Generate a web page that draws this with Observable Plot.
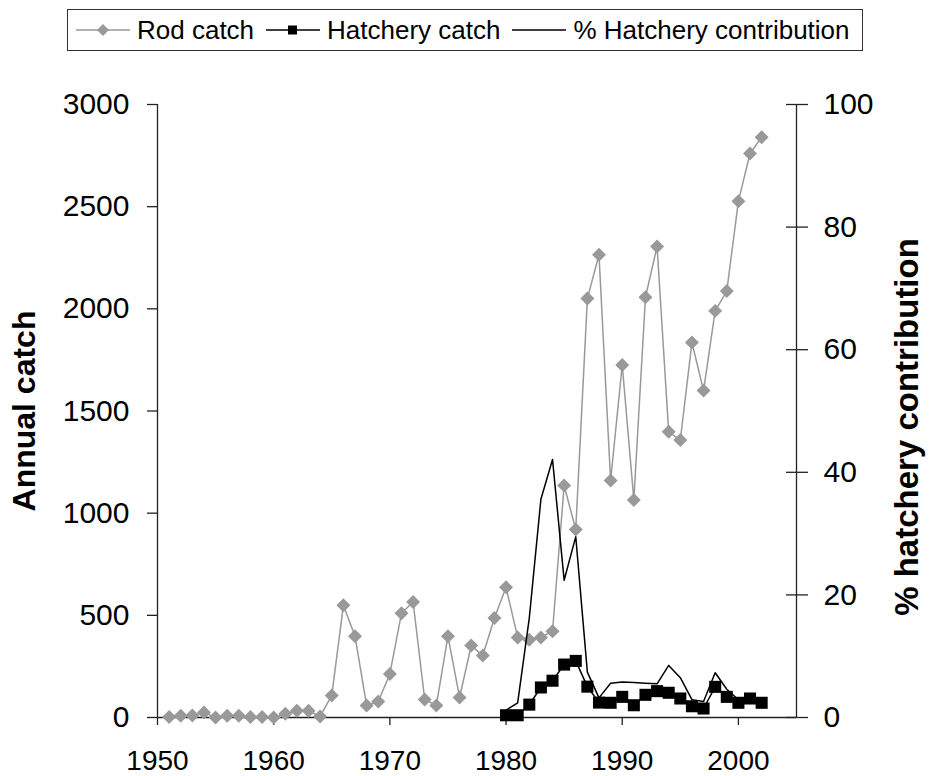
<!DOCTYPE html>
<html>
<head>
<meta charset="utf-8">
<script src="https://cdn.jsdelivr.net/npm/d3@7"></script>
<script src="https://cdn.jsdelivr.net/npm/@observablehq/plot@0.6"></script>
<style>
  body { margin: 0; background: #fff; font-family: "Liberation Sans", Arial, sans-serif; }
  #wrap { width: 931px; }
  #legend { position: relative; height: 56px; }
  #legend .box {
    position: absolute; left: 67px; top: 9px; height: 42px;
    border: 1px solid #333; box-sizing: border-box;
    display: flex; align-items: center; padding: 0 12px 0 8px;
    font-size: 26px; color: #000; white-space: nowrap;
  }
  #legend .item { display: flex; align-items: center; }
  #legend .item + .item { margin-left: 12px; }
  #legend svg { margin-right: 7px; display: block; }
</style>
</head>
<body>
<div id="wrap">
  <div id="legend"><div class="box"></div></div>
  <div id="chart"></div>
</div>
<script>
// ---- data ----
const rodYears = [1951,1952,1953,1954,1955,1956,1957,1958,1959,1960,
  1961,1962,1963,1964,1965,1966,1967,1968,1969,1970,
  1971,1972,1973,1974,1975,1976,1977,1978,1979,1980,
  1981,1982,1983,1984,1985,1986,1987,1988,1989,1990,
  1991,1992,1993,1994,1995,1996,1997,1998,1999,2000,2001,2002];
const rodCatch = [2,8,10,25,0,8,8,2,2,0,
  18,33,33,5,108,549,398,59,78,213,
  510,565,88,59,398,98,352,303,487,637,
  392,380,392,422,1135,920,2050,2265,1160,1725,
  1065,2057,2305,1398,1358,1835,1600,1990,2087,2527,2760,2840];
const hatchYears = [1980,1981,1982,1983,1984,1985,1986,1987,1988,1989,1990,
  1991,1992,1993,1994,1995,1996,1997,1998,1999,2000,2001,2002];
const hatcheryCatch = [11,11,63,147,180,259,277,151,73,72,101,
  60,111,129,121,93,55,44,150,101,72,93,72];
const pctHatchery = [1.2,2.4,16.2,35.6,42.1,22.4,29.5,7.4,3.2,5.6,5.8,
  5.7,5.6,5.5,8.5,6.5,2.9,2.6,7.3,4.6,2.9,3.4,2.6];
const xTicks = [1950,1960,1970,1980,1990,2000];
const leftTicks = [0,500,1000,1500,2000,2500,3000];
const pctTicks = [0,20,40,60,80,100];
const seriesNames = ["Rod catch","Hatchery catch","% Hatchery contribution"];
const leftTitle = "Annual catch";
const rightTitle = "% hatchery contribution";

const PCT_K = 3000 / 100; // secondary axis 0–100 maps onto 0–3000
const GRAY = "#999999";
const AXIS = "#222";
const FONT = "Liberation Sans, Arial, sans-serif";

const rod = rodYears.map((y, i) => ({year: y, value: rodCatch[i]}));
const hatch = hatchYears.map((y, i) => ({year: y, value: hatcheryCatch[i]}));
const pct = hatchYears.map((y, i) => ({year: y, value: pctHatchery[i]}));

const chart = Plot.plot({
  width: 931,
  height: 720,
  marginTop: 48,
  marginBottom: 59,
  marginLeft: 157,
  marginRight: 135,
  x: {domain: [1950, 2005]},
  y: {domain: [0, 3000]},
  style: {fontFamily: FONT, color: "#000", background: "#fff", overflow: "visible"},
  marks: [
    Plot.axisX(xTicks, {tickSize: 8, tickPadding: 25, fontSize: 28, label: null,
      stroke: AXIS, strokeWidth: 1.3, tickFormat: d => String(d)}),
    Plot.axisY(leftTicks, {anchor: "left", tickSize: 10, tickPadding: 18, fontSize: 30,
      label: null, stroke: AXIS, strokeWidth: 1.3, tickFormat: d => String(d)}),
    Plot.axisY(pctTicks.map(p => p * PCT_K), {anchor: "right", tickSize: 22, insetRight: 11,
      tickPadding: 16, fontSize: 30, label: null, stroke: AXIS, strokeWidth: 1.3,
      tickFormat: d => String(Math.round(d / PCT_K))}),
    Plot.ruleX([1950, 2005], {stroke: AXIS, strokeWidth: 1.3}),
    Plot.ruleY([0], {stroke: AXIS, strokeWidth: 1.3}),
    Plot.line(rod, {x: "year", y: "value", stroke: GRAY, strokeWidth: 1.5}),
    Plot.dot(rod, {x: "year", y: "value", symbol: "diamond2", r: 6.3, fill: GRAY}),
    Plot.line(pct, {x: "year", y: d => d.value * PCT_K, stroke: "#000", strokeWidth: 1.5}),
    Plot.line(hatch, {x: "year", y: "value", stroke: "#000", strokeWidth: 1.5}),
    Plot.dot(hatch, {x: "year", y: "value", symbol: "square", r: 6.8, fill: "#000"}),
    Plot.text([leftTitle], {text: d => d, frameAnchor: "left", textAnchor: "middle",
      dx: -133, rotate: -90, fontSize: 32, fontWeight: "bold", fill: "#000"}),
    Plot.text([rightTitle], {text: d => d, frameAnchor: "right", textAnchor: "middle",
      dx: 111, dy: 16, rotate: -90, fontSize: 33, fontWeight: "bold", fill: "#000"})
  ]
});
document.getElementById("chart").appendChild(chart);

// ---- legend ----
const box = document.querySelector("#legend .box");
const markerSvgs = [
  `<svg width="54" height="16"><line x1="0" y1="8" x2="54" y2="8" stroke="${GRAY}" stroke-width="1.5"/><path d="M27,2 L33,8 L27,14 L21,8 Z" fill="${GRAY}"/></svg>`,
  `<svg width="54" height="16"><line x1="0" y1="8" x2="54" y2="8" stroke="#000" stroke-width="1.5"/><rect x="22" y="3.5" width="9" height="9" fill="#000"/></svg>`,
  `<svg width="54" height="16"><line x1="0" y1="8" x2="54" y2="8" stroke="#000" stroke-width="1.5"/></svg>`
];
seriesNames.forEach((name, i) => {
  const item = document.createElement("div");
  item.className = "item";
  item.innerHTML = markerSvgs[i] + `<span>${name}</span>`;
  box.appendChild(item);
});
</script>
</body>
</html>
